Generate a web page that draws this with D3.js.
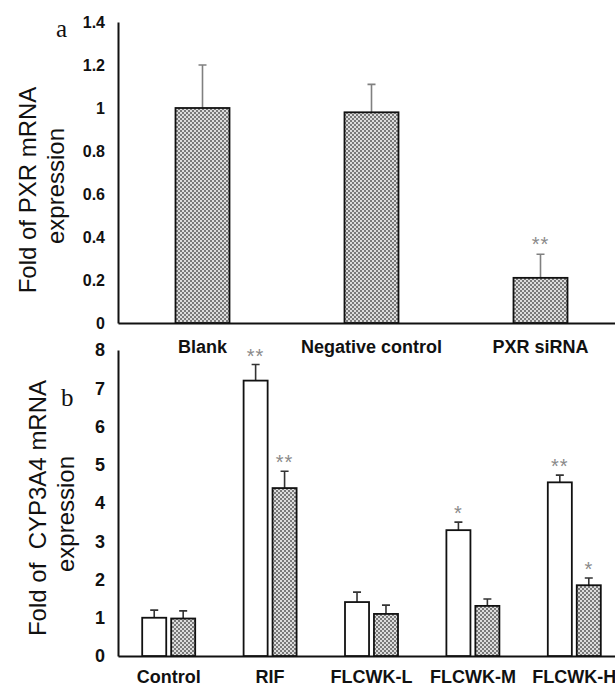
<!DOCTYPE html>
<meta charset="utf-8">
<style>
body { margin: 0; background: #fff; }
.tick text { font-family: "Liberation Sans", Arial, sans-serif; font-weight: bold; fill: #111; }
.domain { stroke: #111; stroke-width: 2px; }
.ytitle { font-family: "Liberation Sans", Arial, sans-serif; font-size: 24px; fill: #111; }
.panel { font-family: "Liberation Serif", "DejaVu Serif", serif; font-size: 25px; fill: #111; }
.star { font-family: "Liberation Sans", Arial, sans-serif; font-size: 20px; letter-spacing: 1px; fill: #8a8a8a; }
.err { stroke: #808080; stroke-width: 1.6px; }
</style>
<svg width="615" height="687"></svg>
<script src="https://d3js.org/d3.v7.min.js"></script>
<script>

// panel a: PXR mRNA
var catsA = ["Blank", "Negative control", "PXR siRNA"],
    valsA = [1.0, 0.98, 0.21],
    errA = [0.2, 0.13, 0.11],
    sigA = ["", "", "**"],
    ticksA = [0, 0.2, 0.4, 0.6, 0.8, 1, 1.2, 1.4];

// panel b: CYP3A4 mRNA, two series per group
var catsB = ["Control", "RIF", "FLCWK-L", "FLCWK-M", "FLCWK-H"],
    seriesB = ["open", "hatched"],
    valsOpen = [1.0, 7.2, 1.41, 3.29, 4.54],
    errOpen = [0.2, 0.42, 0.26, 0.21, 0.19],
    sigOpen = ["", "**", "", "*", "**"],
    valsHatch = [0.98, 4.39, 1.1, 1.31, 1.85],
    errHatch = [0.2, 0.44, 0.23, 0.18, 0.19],
    sigHatch = ["", "**", "", "", "*"],
    ticksB = [0, 1, 2, 3, 4, 5, 6, 7, 8];

var svg = d3.select("svg");

var defs = svg.append("defs");
var pat = defs.append("pattern")
    .attr("id", "hatch")
    .attr("patternUnits", "userSpaceOnUse")
    .attr("width", 4)
    .attr("height", 4);
pat.append("rect").attr("width", 4).attr("height", 4).attr("fill", "#7a7a7a");
pat.append("circle").attr("cx", 1).attr("cy", 1).attr("r", 1).attr("fill", "#fff");
pat.append("circle").attr("cx", 3).attr("cy", 3).attr("r", 1).attr("fill", "#fff");

// ---------- panel a ----------
var yA = d3.scaleLinear().domain([0, 1.4]).range([323, 22]);
var xA = d3.scaleBand().domain(catsA).range([118, 625]).padding(0);
var bwA = 54;

var ga = svg.append("g");

ga.append("g")
    .attr("transform", "translate(118,0)")
    .call(d3.axisLeft(yA).tickValues(ticksA).tickFormat(d3.format("~g")).tickSize(0).tickPadding(13))
    .selectAll("text").style("font-size", "16px");

ga.append("g")
    .attr("transform", "translate(0,323)")
    .call(d3.axisBottom(xA).tickSize(0).tickPadding(17).tickSizeOuter(0))
    .selectAll("text").style("font-size", "18px");

var dataA = catsA.map(function(c, i) { return {c: c, v: valsA[i], e: errA[i], s: sigA[i]}; });

ga.selectAll(".errA")
    .data(dataA)
  .enter().append("path")
    .attr("class", "err")
    .attr("fill", "none")
    .attr("d", function(d) {
      var cx = xA(d.c) + xA.bandwidth() / 2;
      return "M" + cx + "," + yA(d.v) + "V" + yA(d.v + d.e) + "M" + (cx - 4) + "," + yA(d.v + d.e) + "H" + (cx + 4);
    });

ga.selectAll(".barA")
    .data(dataA)
  .enter().append("rect")
    .attr("x", function(d) { return xA(d.c) + xA.bandwidth() / 2 - bwA / 2; })
    .attr("y", function(d) { return yA(d.v); })
    .attr("width", bwA)
    .attr("height", function(d) { return yA(0) - yA(d.v); })
    .attr("fill", "url(#hatch)")
    .attr("stroke", "#111")
    .attr("stroke-width", 1.8);

ga.selectAll(".starA")
    .data(dataA)
  .enter().append("text")
    .attr("class", "star")
    .attr("text-anchor", "middle")
    .attr("x", function(d) { return xA(d.c) + xA.bandwidth() / 2; })
    .attr("y", function(d) { return yA(d.v + d.e) - 3; })
    .text(function(d) { return d.s; });

ga.append("text").attr("class", "panel").attr("x", 56).attr("y", 37).text("a");

ga.append("text")
    .attr("class", "ytitle")
    .attr("transform", "translate(27,190) rotate(-90)")
    .attr("text-anchor", "middle")
    .attr("dominant-baseline", "central")
    .text("Fold of PXR mRNA");
ga.append("text")
    .attr("class", "ytitle")
    .attr("transform", "translate(55,186) rotate(-90)")
    .attr("text-anchor", "middle")
    .attr("dominant-baseline", "central")
    .text("expression");

// ---------- panel b ----------
var yB = d3.scaleLinear().domain([0, 8]).range([656, 350]);
var xB = d3.scaleBand().domain(catsB).range([118, 625]).padding(0);
var x1 = d3.scaleBand().domain(seriesB).range([-26.5, 26.5]).paddingInner(0.17);

var gb = svg.append("g");

gb.append("g")
    .attr("transform", "translate(118,0)")
    .call(d3.axisLeft(yB).tickValues(ticksB).tickSize(0).tickPadding(13))
    .selectAll("text").style("font-size", "18px");

gb.append("g")
    .attr("transform", "translate(0,656)")
    .call(d3.axisBottom(xB).tickSize(0).tickPadding(14).tickSizeOuter(0))
    .selectAll("text").style("font-size", "18px");

var dataB = [];
catsB.forEach(function(c, i) {
  dataB.push({c: c, k: "open", v: valsOpen[i], e: errOpen[i], s: sigOpen[i]});
  dataB.push({c: c, k: "hatched", v: valsHatch[i], e: errHatch[i], s: sigHatch[i]});
});

function cxB(d) { return xB(d.c) + xB.bandwidth() / 2 + x1(d.k) + x1.bandwidth() / 2; }

gb.selectAll(".errB")
    .data(dataB)
  .enter().append("path")
    .attr("fill", "none")
    .attr("stroke", "#333")
    .attr("stroke-width", 1.6)
    .attr("d", function(d) {
      var cx = cxB(d);
      return "M" + cx + "," + yB(d.v) + "V" + yB(d.v + d.e) + "M" + (cx - 4) + "," + yB(d.v + d.e) + "H" + (cx + 4);
    });

gb.selectAll(".barB")
    .data(dataB)
  .enter().append("rect")
    .attr("x", function(d) { return cxB(d) - x1.bandwidth() / 2; })
    .attr("y", function(d) { return yB(d.v); })
    .attr("width", x1.bandwidth())
    .attr("height", function(d) { return yB(0) - yB(d.v); })
    .attr("fill", function(d) { return d.k == "open" ? "#fff" : "url(#hatch)"; })
    .attr("stroke", "#111")
    .attr("stroke-width", 1.8);

gb.selectAll(".starB")
    .data(dataB)
  .enter().append("text")
    .attr("class", "star")
    .attr("text-anchor", "middle")
    .attr("x", cxB)
    .attr("y", function(d) { return yB(d.v + d.e) - 2; })
    .text(function(d) { return d.s; });

gb.append("text").attr("class", "panel").attr("x", 61).attr("y", 406).text("b");

gb.append("text")
    .attr("class", "ytitle")
    .attr("transform", "translate(37,508) rotate(-90)")
    .attr("text-anchor", "middle")
    .attr("dominant-baseline", "central")
    .attr("xml:space", "preserve")
    .style("white-space", "pre")
    .text("Fold of  CYP3A4 mRNA");
gb.append("text")
    .attr("class", "ytitle")
    .attr("transform", "translate(65,514) rotate(-90)")
    .attr("text-anchor", "middle")
    .attr("dominant-baseline", "central")
    .text("expression");

</script>
